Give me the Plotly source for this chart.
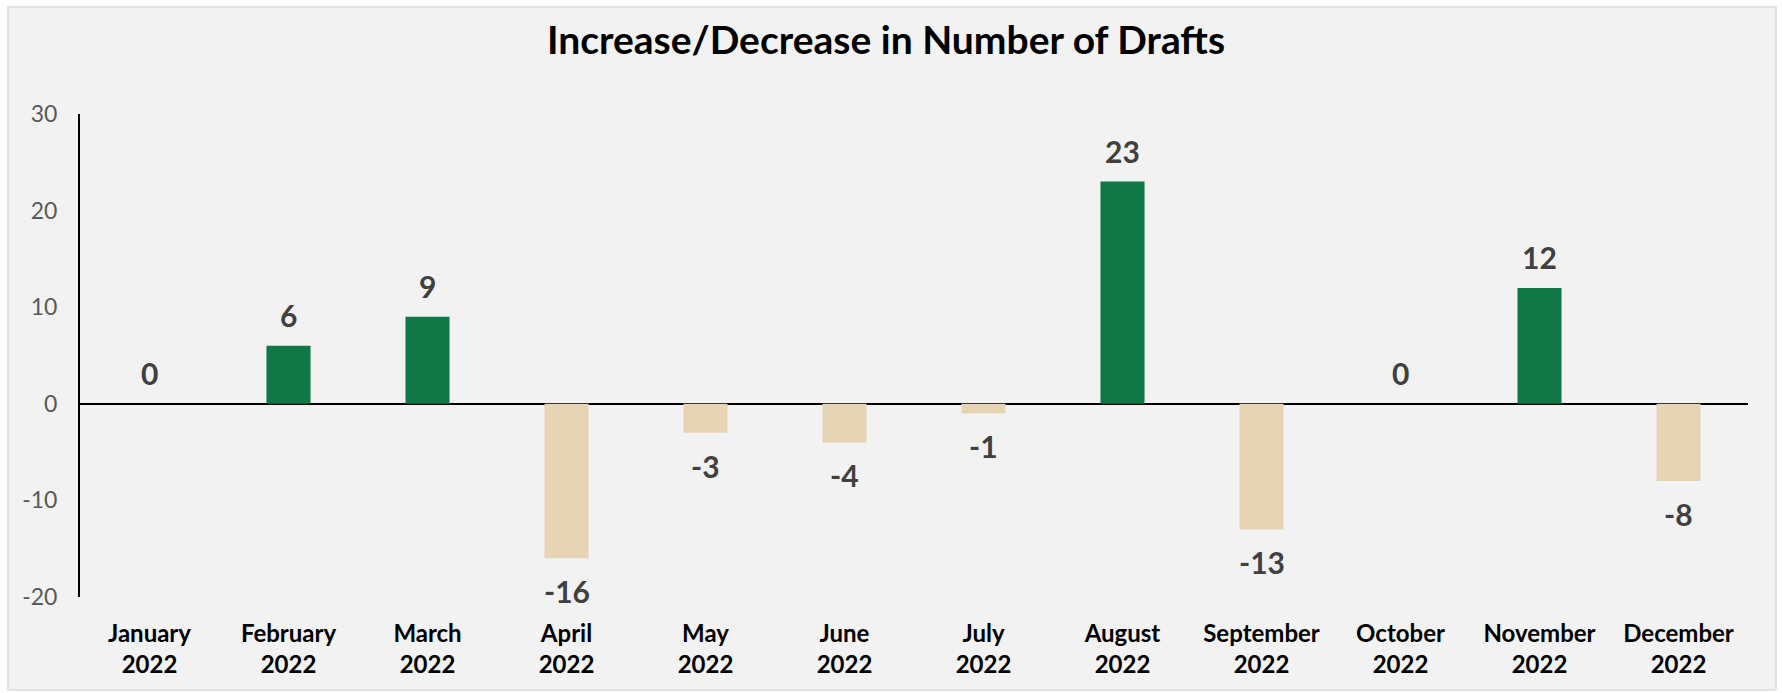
import plotly.graph_objects as go

months = ["January", "February", "March", "April", "May", "June", "July",
          "August", "September", "October", "November", "December"]
year = "2022"
changes = [0, 6, 9, -16, -3, -4, -1, 23, -13, 0, 12, -8]
y_ticks = [-20, -10, 0, 10, 20, 30]

GREEN = "#0F7846"
BEIGE = "#E7D4B4"
FONT = "Lato"

W, H = 1782, 693
L, R, T, B = 80, 34, 114, 96
pw, ph = W - L - R, H - T - B

cats = [f"{m}<br>{year}" for m in months]
colors = [GREEN if v > 0 else BEIGE for v in changes]

fig = go.Figure()
fig.add_trace(go.Bar(
    x=cats, y=changes, marker=dict(color=colors, line=dict(width=0)),
    hoverinfo="x+y", showlegend=False,
))

annotations = []
for c, v in zip(cats, changes):
    annotations.append(dict(
        x=c, y=v, xref="x", yref="y", text=str(v), showarrow=False,
        yanchor="middle", yshift=31 if v >= 0 else -33,
        font=dict(family=FONT, size=30, color="#404040", weight="bold"),
    ))

def px_x(p):
    return (p - L) / pw

def px_y(p):
    return (H - B - p) / ph

fig.add_shape(type="rect", xref="paper", yref="paper",
              x0=px_x(8), x1=px_x(1776), y0=px_y(690), y1=px_y(7),
              fillcolor="#F2F2F2", line=dict(color="#D9D9D9", width=1.5),
              layer="below")

fig.update_layout(
    width=W, height=H,
    margin=dict(l=L, r=R, t=T, b=B),
    paper_bgcolor="white", plot_bgcolor="rgba(0,0,0,0)",
    bargap=0.683,
    title=dict(text="<b>Increase/Decrease in Number of Drafts</b>",
               x=886 / W, xanchor="center", y=1 - 40 / H, yanchor="middle",
               yref="container",
               font=dict(family=FONT, size=39, color="black")),
    annotations=annotations,
    xaxis=dict(showline=False, showgrid=False, zeroline=False, ticks="",
               tickfont=dict(family=FONT, size=24, color="black", weight="bold"),
               ticklabelstandoff=20, fixedrange=True),
    yaxis=dict(range=[-20, 30], tickvals=y_ticks,
               ticktext=[str(v) for v in y_ticks], showgrid=False,
               showline=True, linecolor="black", linewidth=2,
               zeroline=True, zerolinecolor="black", zerolinewidth=2,
               ticks="", ticklabelstandoff=16, fixedrange=True,
               tickfont=dict(family=FONT, size=23, color="#595959")),
)

fig.write_html("out.html", config={"displayModeBar": False},
               post_script="document.body.style.margin='0px';"
                           "document.body.style.overflow='hidden';")
